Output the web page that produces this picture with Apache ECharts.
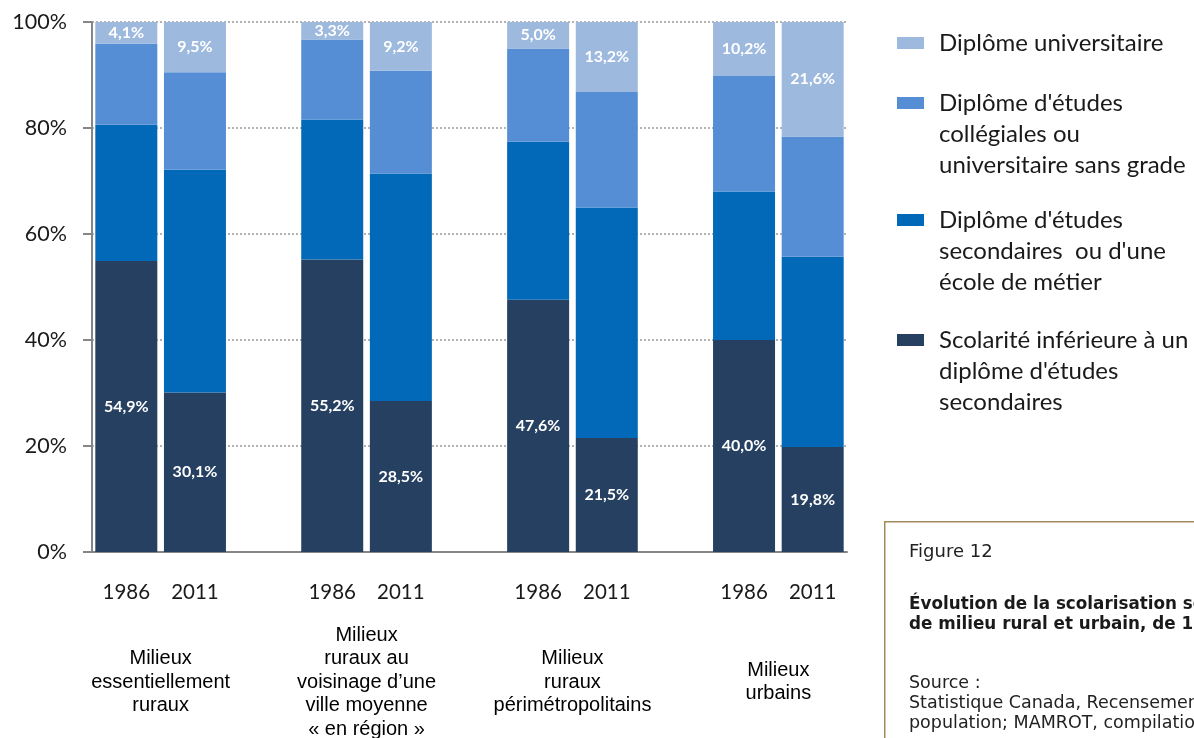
<!DOCTYPE html>
<html>
<head>
<meta charset="utf-8">
<script src="https://cdn.jsdelivr.net/npm/echarts@6/dist/echarts.min.js"></script>
<style>
html,body{margin:0;padding:0;background:#fff;}
#c{width:1194px;height:738px;}
</style>
</head>
<body>
<div id="c"></div>
<script>
// Bar slots (empty slots separate the four groups)
const years = ['1986', '2011', '', '1986', '2011', '', '1986', '2011', '', '1986', '2011'];
// Group labels placed at slot boundaries (12 boundary points)
const groupLabels = ['', 'Milieux\nessentiellement\nruraux', '', '',
  'Milieux\nruraux au\nvoisinage d\u2019une\nville moyenne\n\u00ab en r\u00e9gion \u00bb', '', '',
  'Milieux\nruraux\np\u00e9rim\u00e9tropolitains', '', '',
  'Milieux\nurbains', ''];

const seriesNames = [
  'Scolarit\u00e9 inf\u00e9rieure',
  'Secondaires',
  'Coll\u00e9giales',
  'Universitaire'
];
const legendTexts = {
  'Universitaire': 'Dipl\u00f4me universitaire',
  'Coll\u00e9giales': "Dipl\u00f4me d'\u00e9tudes\ncoll\u00e9giales ou\nuniversitaire sans grade",
  'Secondaires': "Dipl\u00f4me d'\u00e9tudes\nsecondaires  ou d'une\n\u00e9cole de m\u00e9tier",
  'Scolarit\u00e9 inf\u00e9rieure': "Scolarit\u00e9 inf\u00e9rieure \u00e0 un\ndipl\u00f4me d'\u00e9tudes\nsecondaires"
};

const lessThanSecondary = [54.9, 30.1, null, 55.2, 28.5, null, 47.6, 21.5, null, 40.0, 19.8];
const secondary         = [25.7, 42.0, null, 26.4, 42.9, null, 29.8, 43.5, null, 28.0, 35.9];
const college           = [15.3, 18.4, null, 15.1, 19.4, null, 17.6, 21.8, null, 21.8, 22.7];
const university        = [4.1,  9.5,  null, 3.3,  9.2,  null, 5.0,  13.2, null, 10.2, 21.6];

const yTicks = [0, 20, 40, 60, 80, 100];

const colors = ['#264061', '#0269B8', '#558ED5', '#9DB9DE'];
const values = [lessThanSecondary, secondary, college, university];
const showLabel = [true, false, false, true];

const fmt = v => v.toFixed(1).replace('.', ',') + '%';

const chart = echarts.init(document.getElementById('c'), null, {renderer: 'canvas'});

const LH = 31;
const legendOrder = ['Universitaire', 'Coll\u00e9giales', 'Secondaires', 'Scolarit\u00e9 inf\u00e9rieure'];
const legendCenters = [43, 103, 220, 340];
const legends = legendOrder.map((name, i) => {
  const n = legendTexts[name].split('\n').length;
  const block = (2 * n - 1) * LH;
  const lead = '\n'.repeat(n - 1);
  return {
    left: 897,
    top: legendCenters[i] - block / 2,
    padding: 0,
    orient: 'vertical',
    itemWidth: 27,
    itemHeight: 12,
    icon: 'rect',
    selectedMode: false,
    formatter: nm => lead + legendTexts[nm],
    textStyle: {fontFamily: 'Lato', fontSize: 24, color: '#1a1a1a', lineHeight: LH, padding: [0, 0, 0, 10]},
    data: [name]
  };
});

const option = {
  animation: false,
  backgroundColor: '#ffffff',
  grid: {left: 92, right: 347, top: 22, bottom: 186, containLabel: false, outerBoundsMode: 'none'},
  legend: legends,
  title: [
    {text: 'Figure 12', left: 909, top: 541, padding: 0,
     textStyle: {fontFamily: 'DejaVu Sans', fontWeight: 'normal', fontSize: 18, color: '#222', lineHeight: 22}},
    {text: '\u00c9volution de la scolarisation selon le type\nde milieu rural et urbain, de 1986 \u00e0 2011', left: 909, top: 595, padding: 0,
     textStyle: {fontFamily: 'DejaVu Sans', fontWeight: 'bold', fontSize: 16.8, color: '#1a1a1a', lineHeight: 20}},
    {text: 'Source :\nStatistique Canada, Recensements de la\npopulation; MAMROT, compilation', left: 909, top: 673, padding: 0,
     textStyle: {fontFamily: 'DejaVu Sans', fontWeight: 'normal', fontSize: 17.5, color: '#222', lineHeight: 20}}
  ],
  graphic: [
    {type: 'rect', left: 884, top: 521, z: -1,
     shape: {width: 400, height: 300},
     style: {fill: '#ffffff', stroke: '#A08C5B', lineWidth: 1.5}}
  ],
  xAxis: [
    {
      type: 'category',
      data: years,
      position: 'bottom',
      axisLine: {show: true, lineStyle: {color: '#868686', width: 2}},
      axisTick: {show: false},
      axisLabel: {interval: 0, margin: 40, verticalAlign: 'middle',
                  fontFamily: 'Lato', fontSize: 20.5, color: '#1a1a1a'},
      splitLine: {show: false}
    },
    {
      type: 'category',
      data: groupLabels,
      boundaryGap: false,
      position: 'bottom',
      axisLine: {show: false},
      axisTick: {show: false},
      axisLabel: {interval: 0, margin: 130, verticalAlign: 'middle', align: 'center',
                  lineHeight: 23.5, fontFamily: 'Liberation Sans', fontSize: 20, color: '#000'},
      splitLine: {show: false}
    }
  ],
  yAxis: {
    type: 'value',
    min: yTicks[0],
    max: yTicks[yTicks.length - 1],
    interval: 20,
    axisLine: {show: true, lineStyle: {color: '#868686', width: 2}},
    axisTick: {show: true, length: 9, lineStyle: {color: '#868686', width: 2}},
    axisLabel: {formatter: '{value}%', margin: 25, fontFamily: 'Lato', fontSize: 21.5, color: '#1a1a1a'},
    splitLine: {show: true, lineStyle: {type: [2, 2], color: '#9a9a9a', width: 1.5}}
  },
  series: seriesNames.map((name, i) => ({
    name: name,
    type: 'bar',
    stack: 'total',
    xAxisIndex: 0,
    barWidth: 62,
    data: values[i],
    itemStyle: {color: colors[i]},
    label: {
      show: showLabel[i],
      position: 'inside',
      formatter: p => fmt(p.value),
      fontFamily: 'Lato',
      fontWeight: 'bold',
      fontSize: 16,
      color: '#ffffff'
    }
  }))
};

chart.setOption(option);
</script>
</body>
</html>
